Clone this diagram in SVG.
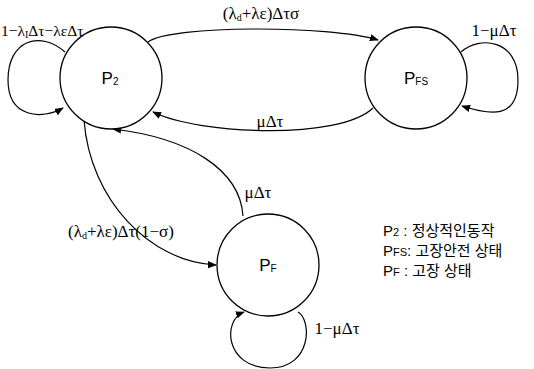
<svg xmlns="http://www.w3.org/2000/svg" width="534" height="369" viewBox="0 0 534 369">
<style>
.node{fill:#fff;stroke:#000;stroke-width:1.3}
.edge{fill:none;stroke:#000;stroke-width:1.2}
.math{font-family:"Liberation Serif","DejaVu Serif",serif;font-size:17px;fill:#000}
.lbl{font-family:"Liberation Sans",Arial,sans-serif;font-size:17px;fill:#000}
.sub{font-size:10px}
.leg{font-family:"Liberation Sans","Noto Sans CJK KR",sans-serif;font-size:15px;fill:#000}
.lsub{font-size:11px}
</style>
<defs>
<marker id="ah" viewBox="0 0 10 10" refX="9" refY="5" markerWidth="9" markerHeight="9" markerUnits="userSpaceOnUse" orient="auto">
<path d="M0,1 L10,5 L0,9 Z" fill="#000"/>
</marker>
</defs>
<rect width="534" height="369" fill="#fff"/>
<g id="connectors">
<path class="edge" d="M65,52 C40,30 8,40 8,80 C8,118 42,120 63,108" marker-end="url(#ah)"/>
<path class="edge" d="M148,42 C170,25 330,25 378,40" marker-end="url(#ah)"/>
<path class="edge" d="M373,108 C340,140 200,135 153,112" marker-end="url(#ah)"/>
<path class="edge" d="M243,216 C240,170 190,138 113,129" marker-end="url(#ah)"/>
<path class="edge" d="M84,120 C90,200 150,262 216,265" marker-end="url(#ah)"/>
<path class="edge" d="M298,312 C312,320 312,368 270,368 C225,368 222,320 244,312" marker-end="url(#ah)"/>
<path class="edge" d="M461,52 C480,35 518,40 518,80 C518,120 490,115 462,106" marker-end="url(#ah)"/>
<text class="math" x="1" y="36" style="font-size:15.5px">1−λ<tspan class="sub" dy="2">I</tspan><tspan dy="-2">Δτ−λεΔτ</tspan></text>
<text class="math" x="261" y="19" text-anchor="middle">(λ<tspan class="sub" dy="2">d</tspan><tspan dy="-2">+λε)Δτσ</tspan></text>
<text class="math" x="270" y="127" text-anchor="middle">μΔτ</text>
<text class="math" x="258" y="198" text-anchor="middle">μΔτ</text>
<text class="math" x="121" y="237" text-anchor="middle">(λ<tspan class="sub" dy="2">d</tspan><tspan dy="-2">+λε)Δτ(1−σ)</tspan></text>
<text class="math" x="494" y="36" text-anchor="middle">1−μΔτ</text>
<text class="math" x="337" y="334" text-anchor="middle">1−μΔτ</text>
</g>
<g id="P2">
<circle class="node" cx="111" cy="78" r="51"/>
<text class="lbl" x="110" y="84" text-anchor="middle">P<tspan class="sub" dy="1">2</tspan></text>
</g>
<g id="PFS">
<circle class="node" cx="416" cy="78" r="51"/>
<text class="lbl" x="416" y="84" text-anchor="middle">P<tspan class="sub" dy="1">FS</tspan></text>
</g>
<g id="PF">
<circle class="node" cx="268" cy="265" r="51"/>
<text class="lbl" x="268" y="271" text-anchor="middle">P<tspan class="sub" dy="1">F</tspan></text>
</g>
<g id="legend">
<text class="leg" x="383" y="236">P<tspan class="lsub">2</tspan> : 정상적인동작</text>
<text class="leg" x="383" y="256">P<tspan class="lsub">FS</tspan>: 고장안전 상태</text>
<text class="leg" x="383" y="276">P<tspan class="lsub">F</tspan> : 고장 상태</text>
</g>
</svg>
